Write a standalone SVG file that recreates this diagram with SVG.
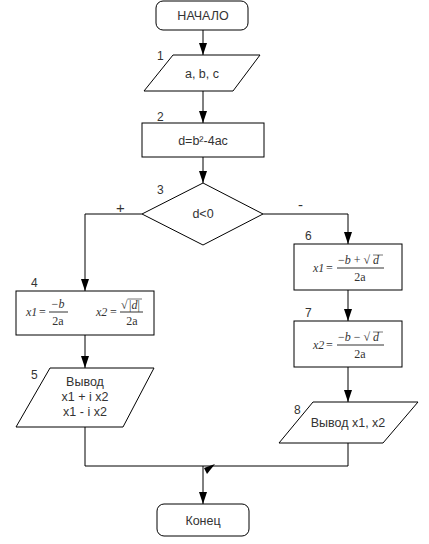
<svg xmlns="http://www.w3.org/2000/svg" width="429" height="544" viewBox="0 0 429 544">
<style>
.shape{fill:#fff;stroke:#000;stroke-width:1}
.t{font-family:"Liberation Sans",Arial,sans-serif;font-size:12.5px;fill:#333;text-anchor:middle}
.n{font-family:"Liberation Sans",Arial,sans-serif;font-size:12px;fill:#333}
.m{font-family:"Liberation Serif","Times New Roman",serif;font-size:12px;fill:#333}
.mi{font-style:italic}
.c{fill:none;stroke:#000;stroke-width:1}
.fl{stroke:#333;stroke-width:1}
</style>
<defs>
<marker id="ah" viewBox="0 0 12 8" refX="12" refY="4" markerWidth="12" markerHeight="8" markerUnits="userSpaceOnUse" orient="auto">
<path d="M0,0 L12,4 L0,8 z" fill="#000"/>
</marker>
</defs>
<g id="connectors">
<path class="c" d="M203,30 V55" marker-end="url(#ah)"/>
<path class="c" d="M203,91 V123" marker-end="url(#ah)"/>
<path class="c" d="M203,157 V183" marker-end="url(#ah)"/>
<path class="c" d="M142,214 H85 V291" marker-end="url(#ah)"/>
<path class="c" d="M263,214 H348 V244" marker-end="url(#ah)"/>
<path class="c" d="M348,290 V321" marker-end="url(#ah)"/>
<path class="c" d="M348,367 V402" marker-end="url(#ah)"/>
<path class="c" d="M85,335 V368" marker-end="url(#ah)"/>
<path class="c" d="M85,427 V466 H348 V443"/>
<path class="c" d="M203,466 V504" marker-end="url(#ah)"/>
<polygon points="215,464 204,468 207,474" fill="#000"/>
<text class="n" x="116" y="213" style="font-size:15px">+</text>
<text class="n" x="298" y="210" style="font-size:15px">-</text>
</g>
<g id="start">
<rect class="shape" x="156" y="1" width="92" height="29" rx="7"/>
<text class="t" x="203" y="20">НАЧАЛО</text>
</g>
<g id="n1">
<polygon class="shape" points="173,55 260,55 233,91 144,91"/>
<text class="t" x="202" y="78">a, b, c</text>
<text class="n" x="157" y="60">1</text>
</g>
<g id="n2">
<rect class="shape" x="142" y="123" width="122" height="34"/>
<text class="t" x="203" y="145">d=b²-4ac</text>
<text class="n" x="157" y="121">2</text>
</g>
<g id="n3">
<polygon class="shape" points="203,183 263,214 203,245 142,214"/>
<text class="t" x="203" y="218">d&lt;0</text>
<text class="n" x="157" y="194">3</text>
</g>
<g id="n4">
<rect class="shape" x="16" y="291" width="138" height="44"/>
<text class="n" x="31" y="287">4</text>
<text class="m mi" x="26" y="316">x1</text>
<text class="m" x="39" y="316">=</text>
<text class="m" x="58" y="308" text-anchor="middle">−<tspan class="mi">b</tspan></text>
<line class="fl" x1="49" y1="312" x2="68" y2="312"/>
<text class="m" x="58" y="325" text-anchor="middle">2a</text>
<text class="m mi" x="96" y="316">x2</text>
<text class="m" x="110" y="316">=</text>
<text class="m" x="121" y="309" fill="#666">√</text>
<path d="M127.5,299 H142" stroke="#777" fill="none"/>
<text class="m" x="129" y="309" fill="#666">|<tspan class="mi">d</tspan>|</text>
<line class="fl" x1="120" y1="312" x2="143" y2="312"/>
<text class="m" x="132" y="325" text-anchor="middle">2a</text>
</g>
<g id="n5">
<polygon class="shape" points="50,368 154,368 123,427 16,427"/>
<text class="n" x="31" y="379">5</text>
<text class="t" x="85" y="386">Вывод</text>
<text class="t" x="85" y="401">x1 + i x2</text>
<text class="t" x="85" y="416">x1 - i x2</text>
</g>
<g id="n6">
<rect class="shape" x="294" y="244" width="108" height="46"/>
<text class="n" x="305" y="240">6</text>
<text class="m mi" x="313" y="272">x1</text>
<text class="m" x="326" y="272">=</text>
<text class="m" x="338" y="264">−<tspan class="mi">b</tspan> + √</text>
<path d="M373,255 H383" stroke="#777" fill="none"/>
<text class="m mi" x="373" y="264">d</text>
<line class="fl" x1="337" y1="268" x2="384" y2="268"/>
<text class="m" x="360" y="281" text-anchor="middle">2a</text>
</g>
<g id="n7">
<rect class="shape" x="294" y="321" width="108" height="46"/>
<text class="n" x="305" y="317">7</text>
<text class="m mi" x="313" y="349">x2</text>
<text class="m" x="326" y="349">=</text>
<text class="m" x="338" y="341">−<tspan class="mi">b</tspan> − √</text>
<path d="M373,332 H383" stroke="#777" fill="none"/>
<text class="m mi" x="373" y="341">d</text>
<line class="fl" x1="337" y1="345" x2="384" y2="345"/>
<text class="m" x="360" y="358" text-anchor="middle">2a</text>
</g>
<g id="n8">
<polygon class="shape" points="313,402 418,402 383,443 279,443"/>
<text class="n" x="294" y="414">8</text>
<text class="t" x="348" y="427">Вывод x1, x2</text>
</g>
<g id="end">
<rect class="shape" x="157" y="504" width="92" height="32" rx="7"/>
<text class="t" x="203" y="525">Конец</text>
</g>
</svg>
